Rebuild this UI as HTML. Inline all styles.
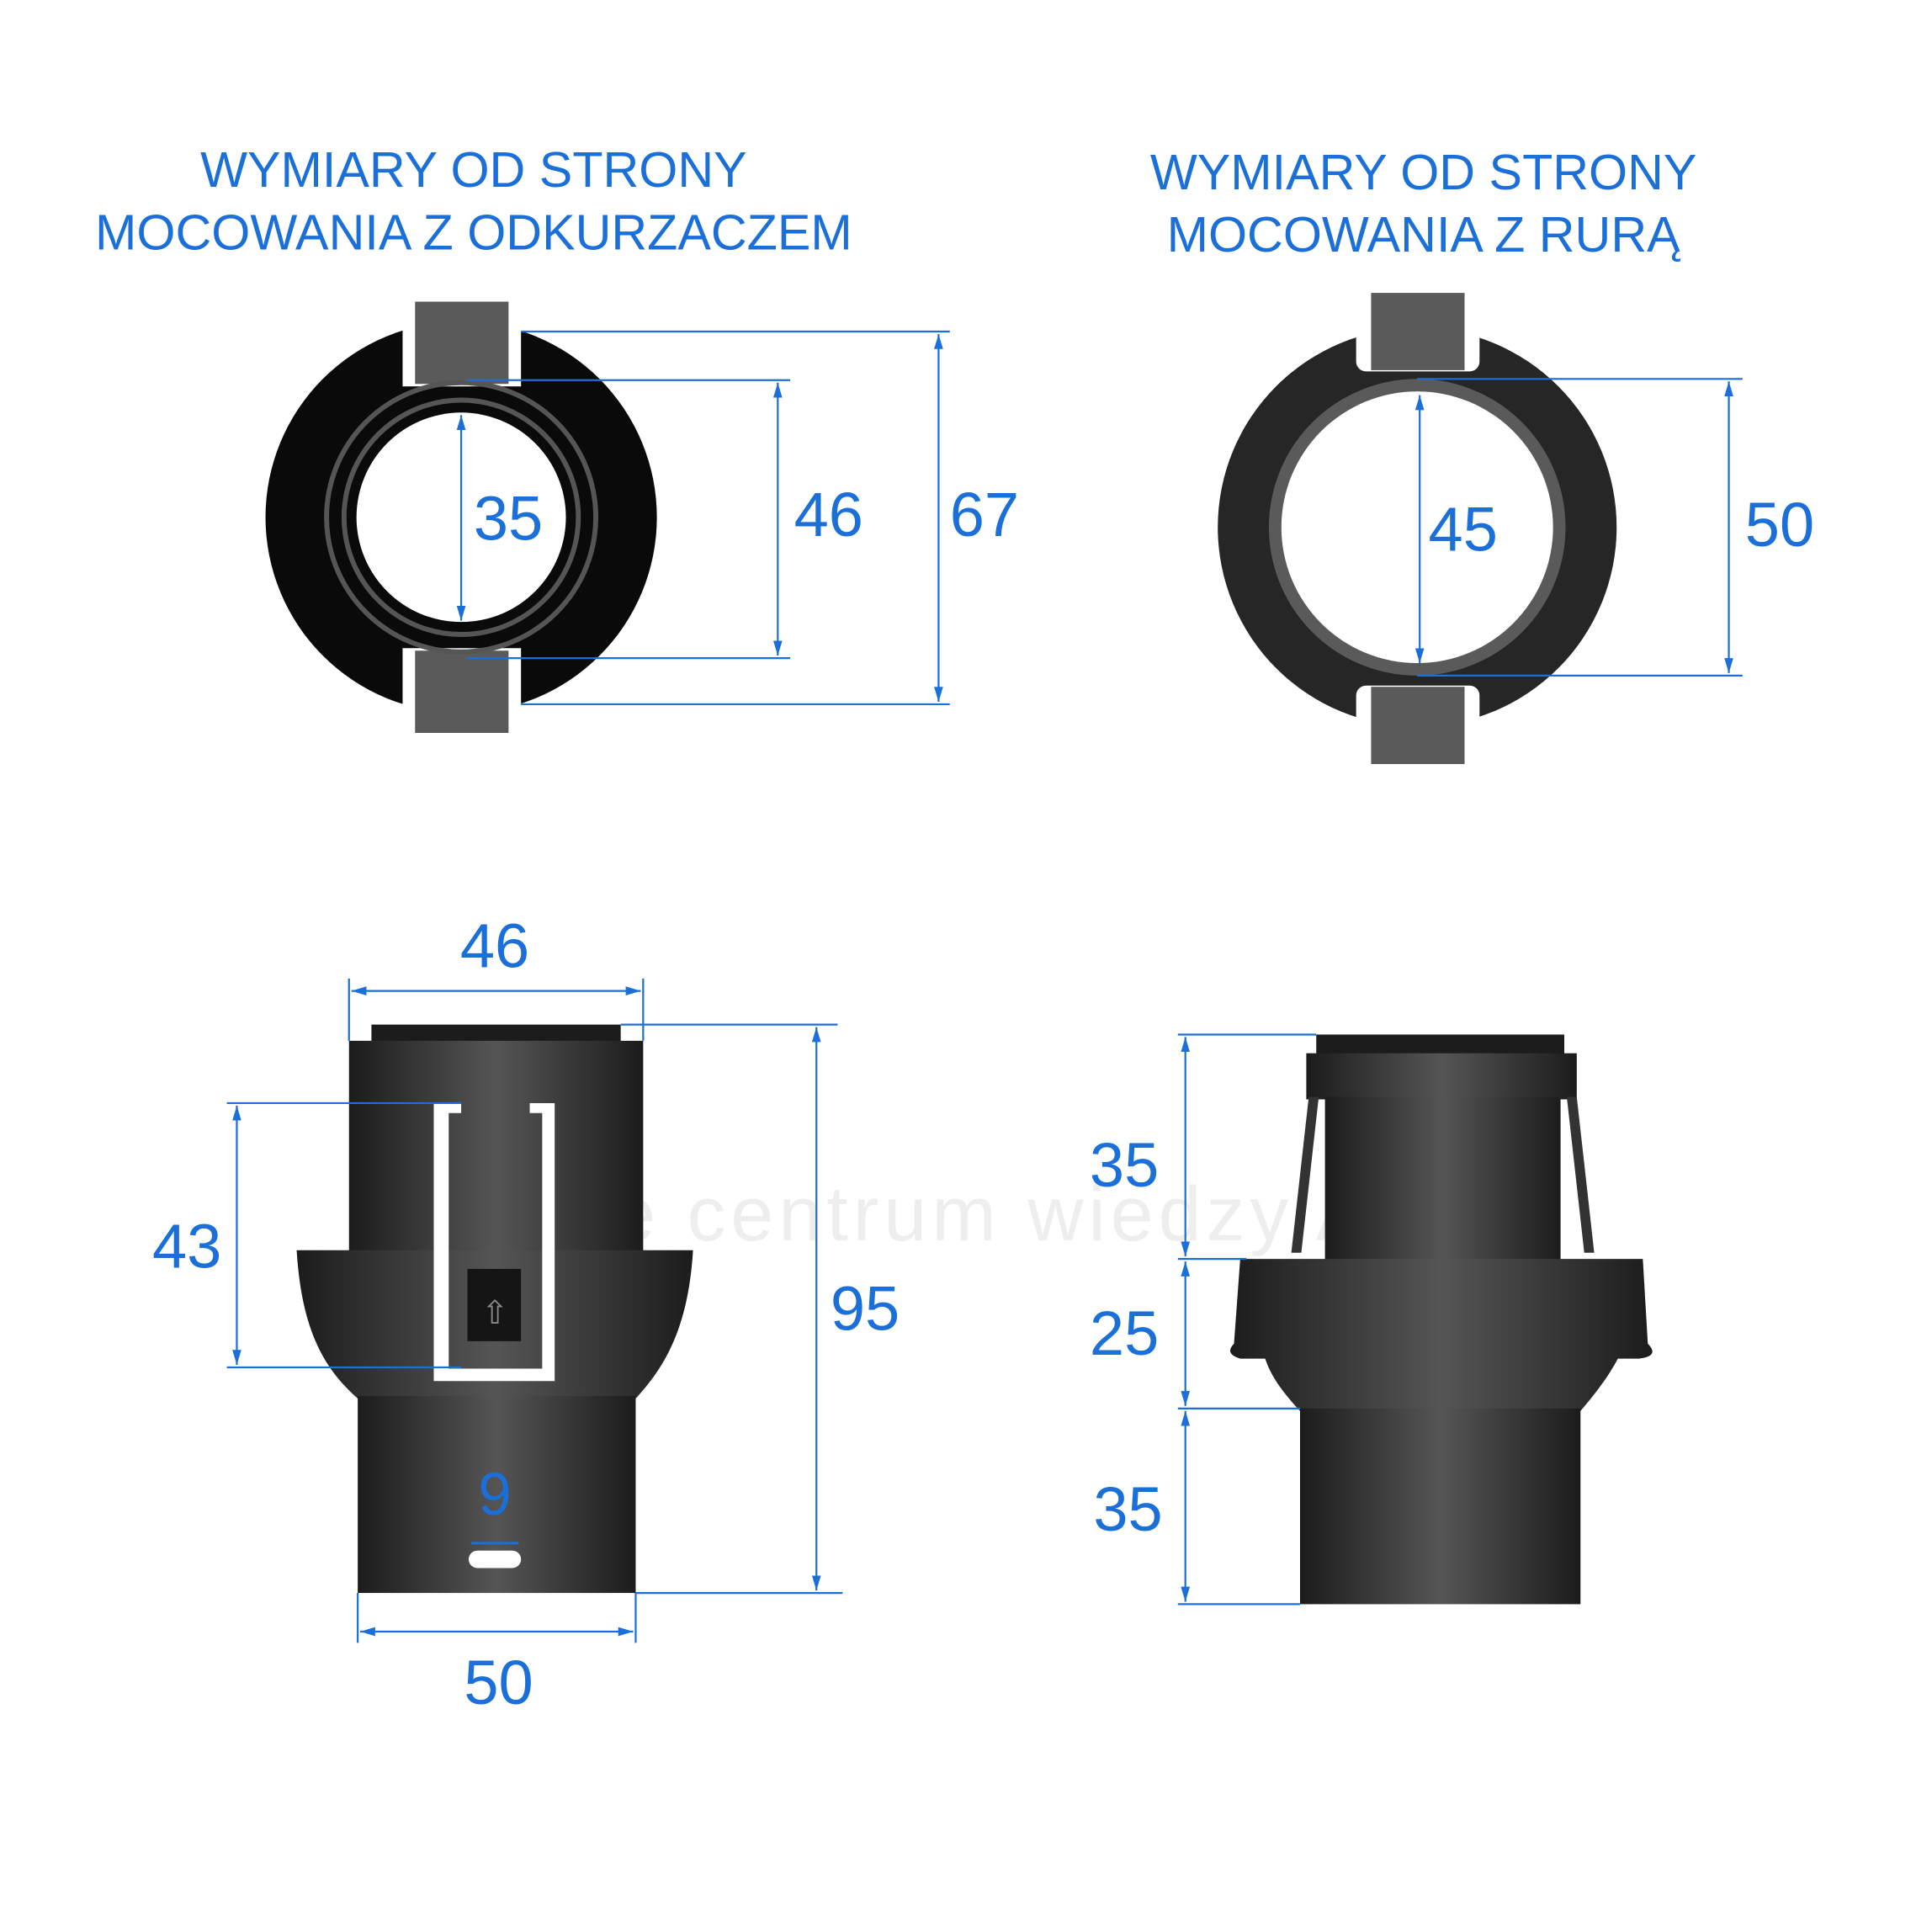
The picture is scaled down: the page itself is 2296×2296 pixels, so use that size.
<!DOCTYPE html>
<html><head><meta charset="utf-8"><style>
html,body{margin:0;padding:0;background:#fff;}
svg{display:block;}
text{font-family:"Liberation Sans",sans-serif;fill:#1b6fd8;}
</style></head><body>
<svg width="2296" height="2296" viewBox="0 0 1550 1550" xmlns="http://www.w3.org/2000/svg">
<defs>
<linearGradient id="g" x1="0" x2="1" y1="0" y2="0">
<stop offset="0" stop-color="#1c1c1c"/><stop offset="0.5" stop-color="#555"/><stop offset="1" stop-color="#1c1c1c"/>
</linearGradient>
<marker id="a" viewBox="0 0 10 10" refX="10" refY="5" markerWidth="8" markerHeight="8" orient="auto-start-reverse"><path d="M0,2 L10,5 L0,8 Z" fill="#1b6fd8"/></marker>
</defs>
<text x="380" y="150" font-size="40" text-anchor="middle">WYMIARY OD STRONY</text>
<text x="380" y="200" font-size="40" text-anchor="middle">MOCOWANIA Z ODKURZACZEM</text>
<text x="1142" y="152" font-size="40" text-anchor="middle">WYMIARY OD STRONY</text>
<text x="1142" y="202" font-size="40" text-anchor="middle">MOCOWANIA Z RURĄ</text>
<text x="775" y="995" font-size="62" text-anchor="middle" style="fill:#eeeeee" letter-spacing="4">Twoje centrum wiedzy AGD</text>

<circle cx="370" cy="415" r="157" fill="#0a0a0a"/>
<rect x="323" y="240" width="95" height="70" fill="#fff"/>
<rect x="323" y="520" width="95" height="70" fill="#fff"/>
<rect x="333" y="242" width="75" height="66" fill="#5a5a5a"/>
<rect x="333" y="522" width="75" height="66" fill="#5a5a5a"/>
<circle cx="370" cy="415" r="108" fill="none" stroke="#555" stroke-width="4"/>
<circle cx="370" cy="415" r="94" fill="none" stroke="#555" stroke-width="4"/>
<circle cx="370" cy="415" r="84" fill="#fff"/>
<g stroke="#1b6fd8" stroke-width="1.5" fill="none">
<line x1="418" y1="266" x2="762" y2="266"/><line x1="418" y1="565" x2="762" y2="565"/>
<line x1="753" y1="268" x2="753" y2="563" marker-start="url(#a)" marker-end="url(#a)"/>
<line x1="375" y1="305" x2="634" y2="305"/><line x1="375" y1="528" x2="634" y2="528"/>
<line x1="624" y1="307" x2="624" y2="526" marker-start="url(#a)" marker-end="url(#a)"/>
<line x1="370" y1="333" x2="370" y2="498" marker-start="url(#a)" marker-end="url(#a)"/>
</g>
<text x="380" y="433" font-size="50">35</text>
<text x="637" y="430" font-size="50">46</text>
<text x="762" y="430" font-size="50">67</text>

<circle cx="1137" cy="423" r="160" fill="#262626"/>
<rect x="1088" y="230" width="99" height="68" rx="8" fill="#fff"/>
<rect x="1088" y="550" width="99" height="68" rx="8" fill="#fff"/>
<rect x="1100" y="235" width="75" height="62" fill="#5a5a5a"/>
<rect x="1100" y="551" width="75" height="62" fill="#5a5a5a"/>
<circle cx="1137" cy="423" r="114" fill="none" stroke="#5a5a5a" stroke-width="10"/>
<circle cx="1137" cy="423" r="109" fill="#fff"/>
<g stroke="#1b6fd8" stroke-width="1.5" fill="none">
<line x1="1137" y1="304" x2="1398" y2="304"/><line x1="1137" y1="542" x2="1398" y2="542"/>
<line x1="1387" y1="306" x2="1387" y2="540" marker-start="url(#a)" marker-end="url(#a)"/>
<line x1="1139" y1="317" x2="1139" y2="532" marker-start="url(#a)" marker-end="url(#a)"/>
</g>
<text x="1146" y="442" font-size="50">45</text>
<text x="1400" y="438" font-size="50">50</text>

<rect x="298" y="822" width="200" height="16" fill="#1c1c1c"/>
<rect x="280" y="835" width="236" height="170" fill="url(#g)"/>
<path d="M238,1003 L556,1003 C552,1070 530,1100 510,1122 L287,1122 C262,1100 242,1070 238,1003 Z" fill="url(#g)"/>
<rect x="287" y="1120" width="223" height="158" fill="url(#g)"/>
<path d="M348,885 L370,885 L370,893 L360,893 L360,1098 L435,1098 L435,893 L425,893 L425,885 L445,885 L445,1108 L348,1108 Z" fill="#fff"/>
<rect x="375" y="1018" width="43" height="58" fill="#151515"/>
<text x="397" y="1062" font-size="26" text-anchor="middle" style="fill:#888">⇧</text>
<rect x="376" y="1244" width="42" height="14" rx="7" fill="#fff"/>
<g stroke="#1b6fd8" stroke-width="1.5" fill="none">
<line x1="280" y1="785" x2="280" y2="835"/><line x1="516" y1="785" x2="516" y2="835"/>
<line x1="282" y1="795" x2="514" y2="795" marker-start="url(#a)" marker-end="url(#a)"/>
<line x1="498" y1="822" x2="672" y2="822"/><line x1="510" y1="1278" x2="676" y2="1278"/>
<line x1="655" y1="824" x2="655" y2="1276" marker-start="url(#a)" marker-end="url(#a)"/>
<line x1="182" y1="885" x2="370" y2="885"/><line x1="182" y1="1097" x2="370" y2="1097"/>
<line x1="190" y1="887" x2="190" y2="1095" marker-start="url(#a)" marker-end="url(#a)"/>
<line x1="287" y1="1278" x2="287" y2="1318"/><line x1="510" y1="1278" x2="510" y2="1318"/>
<line x1="289" y1="1309" x2="508" y2="1309" marker-start="url(#a)" marker-end="url(#a)"/>
<line x1="378" y1="1238" x2="416" y2="1238" stroke-width="2"/>
</g>
<text x="397" y="776" font-size="50" text-anchor="middle">46</text>
<text x="150" y="1017" font-size="50" text-anchor="middle">43</text>
<text x="694" y="1067" font-size="50" text-anchor="middle">95</text>
<text x="400" y="1367" font-size="50" text-anchor="middle">50</text>
<text x="397" y="1215" font-size="48" text-anchor="middle">9</text>

<rect x="1056" y="830" width="199" height="18" fill="#1c1c1c"/>
<rect x="1048" y="845" width="217" height="37" fill="url(#g)"/>
<rect x="1063" y="880" width="189" height="132" fill="url(#g)"/>
<path d="M1050,880 L1036,1005 L1044,1005 L1058,880 Z" fill="#333"/>
<path d="M1265,880 L1279,1005 L1271,1005 L1257,880 Z" fill="#333"/>
<path d="M995,1010 L1318,1010 L1322,1078 Q1332,1088 1315,1090 L1298,1090 C1290,1105 1280,1118 1268,1132 L1043,1132 C1030,1118 1020,1105 1015,1090 L995,1090 Q982,1086 990,1078 Z" fill="url(#g)"/>
<rect x="1043" y="1130" width="225" height="157" fill="url(#g)"/>
<g stroke="#1b6fd8" stroke-width="1.5" fill="none">
<line x1="945" y1="830" x2="1056" y2="830"/><line x1="945" y1="1010" x2="1000" y2="1010"/>
<line x1="945" y1="1130" x2="1043" y2="1130"/><line x1="945" y1="1287" x2="1043" y2="1287"/>
<line x1="951" y1="832" x2="951" y2="1008" marker-start="url(#a)" marker-end="url(#a)"/>
<line x1="951" y1="1012" x2="951" y2="1128" marker-start="url(#a)" marker-end="url(#a)"/>
<line x1="951" y1="1132" x2="951" y2="1285" marker-start="url(#a)" marker-end="url(#a)"/>
</g>
<text x="902" y="952" font-size="50" text-anchor="middle">35</text>
<text x="902" y="1087" font-size="50" text-anchor="middle">25</text>
<text x="905" y="1228" font-size="50" text-anchor="middle">35</text>
</svg>
</body></html>
